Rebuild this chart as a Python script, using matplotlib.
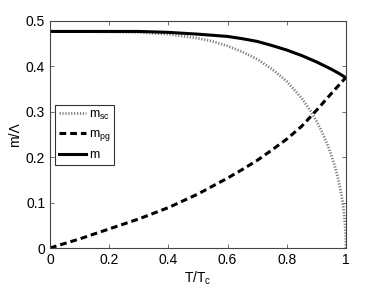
import matplotlib
matplotlib.use("Agg")
import matplotlib.pyplot as plt

plt.rcParams['font.family'] = ['Liberation Sans', 'DejaVu Sans']
plt.rcParams['mathtext.fontset'] = 'custom'
plt.rcParams['mathtext.rm'] = 'Liberation Sans'

T_sc = [0.0, 0.1, 0.2, 0.3, 0.4, 0.5, 0.55, 0.6, 0.65, 0.7, 0.75, 0.8, 0.85, 0.88, 0.9, 0.92,
        0.94, 0.95, 0.96, 0.97, 0.98, 0.985, 0.99, 0.995, 0.999, 1.0]
m_sc = [0.477, 0.477, 0.476, 0.475, 0.471, 0.462, 0.455, 0.445, 0.432, 0.416, 0.394, 0.367, 0.330,
        0.302, 0.280, 0.254, 0.223, 0.205, 0.185, 0.162, 0.133, 0.115, 0.095, 0.067, 0.030, 0.0]

T_pg = [0.0, 0.1, 0.2, 0.3, 0.4, 0.5, 0.6, 0.65, 0.7, 0.75, 0.8, 0.85, 0.9, 0.95, 1.0]
m_pg = [0.0, 0.020, 0.042, 0.064, 0.089, 0.119, 0.154, 0.173, 0.193, 0.216, 0.240, 0.268, 0.303, 0.340, 0.376]

T_m = [0.0, 0.1, 0.2, 0.3, 0.4, 0.5, 0.6, 0.65, 0.7, 0.75, 0.8, 0.85, 0.9, 0.95, 0.975, 1.0]
m_tot = [0.477, 0.477, 0.477, 0.477, 0.475, 0.471, 0.466, 0.461, 0.455, 0.446, 0.436, 0.424, 0.410,
         0.394, 0.385, 0.375]

xticks = [0, 0.2, 0.4, 0.6, 0.8, 1]
xticklabels = ['0', '0.2', '0.4', '0.6', '0.8', '1']
yticks = [0, 0.1, 0.2, 0.3, 0.4, 0.5]
yticklabels = ['0', '0.1', '0.2', '0.3', '0.4', '0.5']

fig = plt.figure(figsize=(3.82, 2.87), dpi=100)
ax = fig.add_axes([50/382, 1 - 248/287, 296/382, 227/287])

ax.plot(T_sc, m_sc, color='#808080', linestyle=(0, (0.45, 0.6)), linewidth=2.0,
        label=r'm$_{\mathrm{sc}}$')
ax.plot(T_pg, m_pg, color='black', linestyle=(0, (2.2, 1.3)), linewidth=2.2,
        label=r'm$_{\mathrm{pg}}$')
ax.plot(T_m, m_tot, color='black', linestyle='-', linewidth=2.2, label='m')

ax.set_xlim(0, 1)
ax.set_ylim(0, 0.5)
ax.set_xticks(xticks)
ax.set_xticklabels(xticklabels)
ax.set_yticks(yticks)
ax.set_yticklabels(yticklabels)
ax.tick_params(direction='in', top=True, right=True, labelsize=10, length=3, width=0.6,
               colors='#555555', labelcolor='black')
for s in ax.spines.values():
    s.set_linewidth(0.8)
    s.set_color('#444444')
ax.set_xlabel(r'T/T$_{\mathrm{c}}$', fontsize=10, labelpad=2)
ax.set_ylabel('m/Λ', fontsize=10, labelpad=3)

leg = ax.legend(loc='upper left', bbox_to_anchor=(5/296, (248-105)/227), fontsize=9,
                frameon=True, fancybox=False, handlelength=2.2, handletextpad=0.2,
                borderpad=0.3, labelspacing=0.5, borderaxespad=0)
leg.get_frame().set_edgecolor('black')
leg.get_frame().set_linewidth(0.8)

fig.savefig('out.png', dpi=100)
